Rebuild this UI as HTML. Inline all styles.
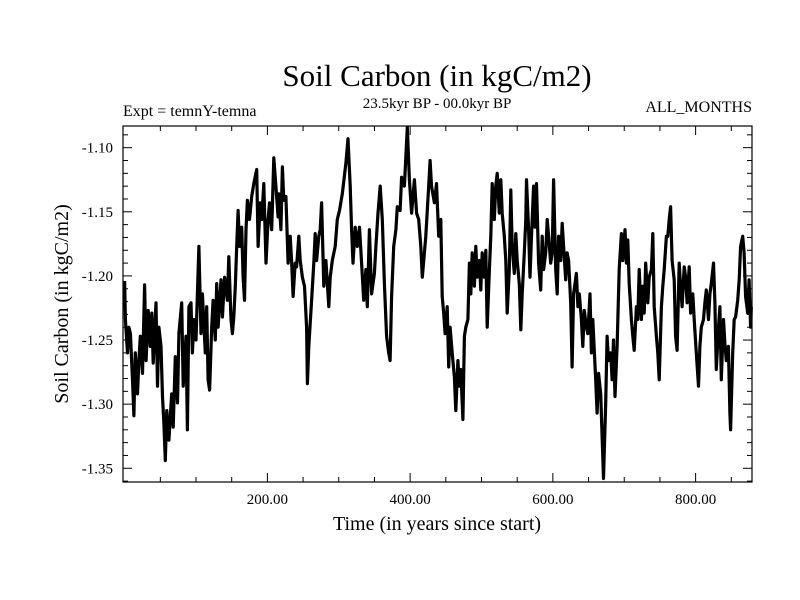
<!DOCTYPE html>
<html><head><meta charset="utf-8"><style>
html,body{margin:0;padding:0;background:#fff;}
svg{display:block;font-family:"Liberation Serif",serif;}
</style></head><body>
<svg id="chart" width="800" height="600" viewBox="0 0 800 600" xmlns="http://www.w3.org/2000/svg">
<text x="437" y="86" font-size="31" text-anchor="middle">Soil Carbon (in kgC/m2)</text>
<text x="123" y="116" font-size="16">Expt = temnY-temna</text>
<text x="437" y="108" font-size="15" text-anchor="middle">23.5kyr BP - 00.0kyr BP</text>
<text x="752" y="112" font-size="16" text-anchor="end">ALL_MONTHS</text>
<text x="437" y="530" font-size="20" text-anchor="middle">Time (in years since start)</text>
<text x="0" y="0" font-size="20" text-anchor="middle" transform="translate(68,304) rotate(-90)">Soil Carbon (in kgC/m2)</text>
<g id="axes"></g>
<g id="series"></g>
<rect x="123" y="126" width="629" height="356" fill="none" stroke="#000" stroke-width="1.2"/>
</svg>
<script>
const years = [0,1,4,6,8,11,13,15,18,20,22,25,28,30,33,36,38,40,44,46,48,51,53,55,57,59,62,66,68,71,74,76,80,82,86,88,90,93,95,97,100,102,104,107,109,113,115,117,119,122,124,127,129,131,135,137,140,144,146,149,151,153,155,157,159,161,164,166,168,170,172,175,178,181,185,187,190,192,195,198,201,203,206,209,212,215,216,219,221,223,226,229,232,234,236,239,241,244,246,249,252,255,256,258,262,265,267,269,272,274,276,279,282,286,288,291,295,298,301,305,310,313,316,318,320,323,326,329,332,335,338,340,343,346,350,352,355,358,361,364,367,370,372,374,377,380,382,386,388,392,396,399,402,406,409,412,415,417,420,422,426,428,430,434,437,440,443,445,447,449,452,454,456,459,462,464,467,469,471,474,476,478,481,483,485,487,490,492,494,497,499,501,504,506,508,511,513,515,518,520,522,525,527,529,532,534,536,539,541,543,546,548,550,553,555,557,560,562,563,566,568,570,573,575,577,580,583,585,587,590,592,594,597,599,601,604,606,608,611,613,615,618,620,622,625,627,629,633,635,637,640,642,644,647,649,652,654,656,660,662,664,667,669,671,674,676,678,681,683,685,687,690,693,696,698,701,703,705,707,710,712,714,717,719,721,724,726,728,730,733,735,738,740,742,745,747,749,752,754,756,759,761,763,765,767,770,772,774,777,779,781,784,786,788,791,793,796,798,801,804,806,808,811,813,815,818,820,822,825,827,829,832,834,836,839,841,843,846,848,849,852,854,856,859,861,863,866,868,870,873,875,877,878];
const values = [-1.204,-1.234,-1.260,-1.240,-1.245,-1.281,-1.309,-1.260,-1.292,-1.266,-1.247,-1.276,-1.207,-1.266,-1.227,-1.255,-1.229,-1.268,-1.221,-1.286,-1.240,-1.255,-1.294,-1.315,-1.344,-1.305,-1.328,-1.292,-1.318,-1.263,-1.299,-1.245,-1.221,-1.286,-1.247,-1.320,-1.224,-1.221,-1.260,-1.234,-1.250,-1.214,-1.177,-1.245,-1.214,-1.260,-1.224,-1.281,-1.289,-1.240,-1.219,-1.250,-1.206,-1.240,-1.203,-1.232,-1.201,-1.219,-1.185,-1.234,-1.245,-1.232,-1.208,-1.177,-1.149,-1.177,-1.162,-1.201,-1.219,-1.164,-1.141,-1.156,-1.138,-1.128,-1.117,-1.177,-1.143,-1.156,-1.128,-1.190,-1.156,-1.143,-1.164,-1.108,-1.130,-1.154,-1.136,-1.164,-1.115,-1.141,-1.138,-1.190,-1.169,-1.190,-1.216,-1.190,-1.193,-1.169,-1.188,-1.201,-1.208,-1.240,-1.284,-1.255,-1.219,-1.190,-1.167,-1.188,-1.169,-1.164,-1.143,-1.208,-1.188,-1.224,-1.201,-1.188,-1.177,-1.156,-1.149,-1.136,-1.112,-1.093,-1.130,-1.164,-1.190,-1.162,-1.177,-1.162,-1.190,-1.219,-1.195,-1.224,-1.164,-1.214,-1.198,-1.177,-1.151,-1.130,-1.156,-1.206,-1.247,-1.260,-1.266,-1.216,-1.177,-1.164,-1.146,-1.149,-1.123,-1.130,-1.084,-1.125,-1.151,-1.125,-1.151,-1.156,-1.177,-1.201,-1.182,-1.169,-1.130,-1.110,-1.130,-1.143,-1.128,-1.169,-1.156,-1.216,-1.229,-1.245,-1.224,-1.271,-1.240,-1.260,-1.279,-1.305,-1.266,-1.286,-1.273,-1.312,-1.247,-1.240,-1.234,-1.190,-1.214,-1.182,-1.208,-1.177,-1.201,-1.188,-1.211,-1.182,-1.201,-1.180,-1.240,-1.195,-1.169,-1.128,-1.156,-1.130,-1.120,-1.151,-1.125,-1.151,-1.169,-1.188,-1.229,-1.195,-1.133,-1.177,-1.198,-1.167,-1.188,-1.206,-1.242,-1.214,-1.182,-1.156,-1.125,-1.164,-1.201,-1.169,-1.130,-1.162,-1.128,-1.190,-1.211,-1.169,-1.195,-1.182,-1.156,-1.169,-1.190,-1.182,-1.125,-1.195,-1.214,-1.169,-1.188,-1.159,-1.177,-1.203,-1.182,-1.188,-1.221,-1.271,-1.214,-1.198,-1.224,-1.214,-1.234,-1.255,-1.227,-1.240,-1.245,-1.214,-1.260,-1.234,-1.281,-1.307,-1.276,-1.292,-1.325,-1.358,-1.299,-1.247,-1.266,-1.260,-1.281,-1.250,-1.294,-1.255,-1.195,-1.167,-1.188,-1.164,-1.190,-1.172,-1.206,-1.234,-1.247,-1.258,-1.224,-1.234,-1.195,-1.234,-1.208,-1.229,-1.190,-1.221,-1.201,-1.195,-1.167,-1.224,-1.247,-1.260,-1.281,-1.224,-1.208,-1.195,-1.169,-1.169,-1.156,-1.146,-1.188,-1.203,-1.247,-1.258,-1.190,-1.208,-1.224,-1.193,-1.201,-1.221,-1.193,-1.229,-1.214,-1.234,-1.260,-1.286,-1.255,-1.240,-1.234,-1.221,-1.211,-1.234,-1.214,-1.206,-1.190,-1.221,-1.273,-1.240,-1.224,-1.281,-1.234,-1.253,-1.266,-1.255,-1.307,-1.320,-1.260,-1.234,-1.232,-1.219,-1.203,-1.177,-1.169,-1.182,-1.216,-1.229,-1.203,-1.240,-1.224];
const xTickValues = [200,400,600,800];
const xTickLabels = ["200.00","400.00","600.00","800.00"];
const yTickValues = [-1.10,-1.15,-1.20,-1.25,-1.30,-1.35];
const yTickLabels = ["-1.10","-1.15","-1.20","-1.25","-1.30","-1.35"];

const L=123,R=752,T=126,B=482;
const X0=-2.3, X1=879, Y0=-1.3607, Y1=-1.0831;
function xs(v){return L+(v-X0)/(X1-X0)*(R-L);}
function ys(v){return B-(v-Y0)/(Y1-Y0)*(B-T);}
const NS="http://www.w3.org/2000/svg";
const axes=document.getElementById('axes');
function line(x1,y1,x2,y2,name){
  const l=document.createElementNS(NS,'line');
  l.setAttribute('x1',x1);l.setAttribute('y1',y1);l.setAttribute('x2',x2);l.setAttribute('y2',y2);
  l.setAttribute('stroke','#000');l.setAttribute('stroke-width','1');
  
  
  axes.appendChild(l);
}
for(let v=50;v<X1;v+=50){
  const x=xs(v), len=(v%200===0)?9:5;
  line(x,B,x,B-len,'x-tick');
  line(x,T,x,T+len,'x-tick-top');
}
for(let i=-136;i<=-109;i++){
  const v=i/100, y=ys(v), major=(i%5===0), len=major?9:5;
  line(L,y,L+len,y,'y-tick');
  line(R,y,R-len,y,'y-tick-right');
}
xTickValues.forEach((v,i)=>{
  const t=document.createElementNS(NS,'text');
  t.setAttribute('x',xs(v));t.setAttribute('y',B+22);
  t.setAttribute('font-size','15');t.setAttribute('text-anchor','middle');
  t.textContent=xTickLabels[i];
  
  
  axes.appendChild(t);
});
yTickValues.forEach((v,i)=>{
  const t=document.createElementNS(NS,'text');
  t.setAttribute('x',L-10);t.setAttribute('y',ys(v)+5);
  t.setAttribute('font-size','15');t.setAttribute('text-anchor','end');
  t.textContent=yTickLabels[i];
  
  
  axes.appendChild(t);
});
const p=document.createElementNS(NS,'path');
p.setAttribute('d',years.map((yr,i)=>(i?'L':'M')+xs(yr).toFixed(1)+','+ys(values[i]).toFixed(1)).join(''));
p.setAttribute('fill','none');p.setAttribute('stroke','#000');p.setAttribute('stroke-width','3.2');
p.setAttribute('stroke-linejoin','round');


document.getElementById('series').appendChild(p);
</script>
</body></html>
